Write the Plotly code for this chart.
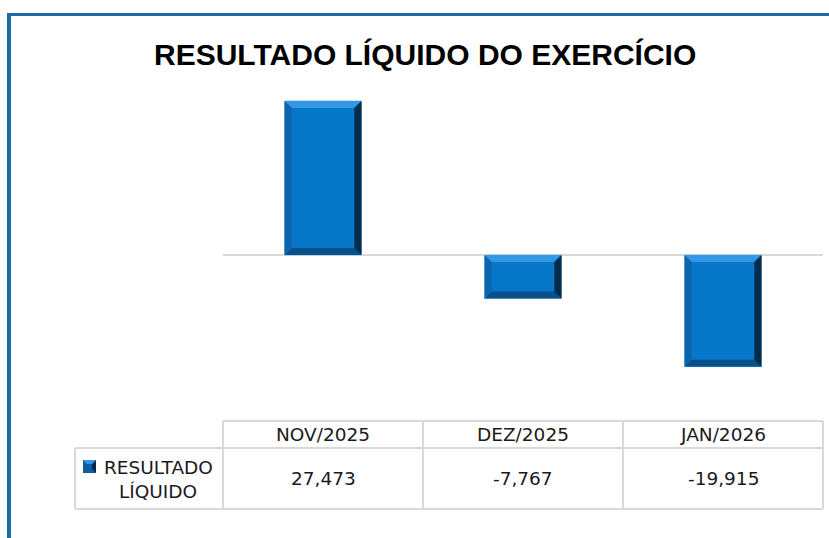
import plotly.graph_objects as go

# ---- data ----
title_text = "RESULTADO LÍQUIDO DO EXERCÍCIO"
categories = ["NOV/2025", "DEZ/2025", "JAN/2026"]
values = [27473, -7767, -19915]
value_labels = ["27,473", "-7,767", "-19,915"]
series_name = ["RESULTADO", "LÍQUIDO"]

W, H = 829, 538
def px(x):
    return x / W
def py(y):
    return 1 - y / H

# plot area geometry (pixels)
X0, X1 = 223, 823
Y_TOP, Y_BOT, Y_ZERO = 90, 400, 255
scale = (Y_ZERO - 101) / values[0]  # px per unit
y_max = (Y_ZERO - Y_TOP) / scale
y_min = -(Y_BOT - Y_ZERO) / scale

xs = list(range(len(categories)))
bar_w = 0.385

fig = go.Figure()
fig.add_trace(go.Bar(
    x=xs, y=values, width=bar_w,
    marker=dict(color="#0677c9", line=dict(color="#9fc3df", width=1)),
    hoverinfo="skip", showlegend=False,
))

shapes = []
# bevel faces computed from data
dx = 0.036
dy = 7 / scale
for c, v in zip(xs, values):
    w = bar_w / 2
    yt, yb = max(v, 0), min(v, 0)
    faces = [
        (f"M {c-w},{yt} L {c+w},{yt} L {c+w-dx},{yt-dy} L {c-w+dx},{yt-dy} Z", "#3598e6"),
        (f"M {c-w},{yb} L {c+w},{yb} L {c+w-dx},{yb+dy} L {c-w+dx},{yb+dy} Z", "#07508a"),
        (f"M {c+w},{yt} L {c+w},{yb} L {c+w-dx},{yb+dy} L {c+w-dx},{yt-dy} Z", "#032b4d"),
        (f"M {c-w},{yt} L {c-w},{yb} L {c-w+dx},{yb+dy} L {c-w+dx},{yt-dy} Z", "#0b66ad"),
    ]
    for path, col in faces:
        shapes.append(dict(type="path", xref="x", yref="y", path=path,
                           fillcolor=col, line=dict(width=0), layer="above"))

# zero line
shapes.append(dict(type="line", xref="paper", yref="y", x0=px(X0), x1=px(X1),
                   y0=0, y1=0, line=dict(color="#d9d9d9", width=2), layer="below"))

# frame border
BLUE = "#1b6ca8"
shapes.append(dict(type="line", xref="paper", yref="paper", x0=px(7), x1=px(829),
                   y0=py(14.5), y1=py(14.5), line=dict(color=BLUE, width=3)))
shapes.append(dict(type="line", xref="paper", yref="paper", x0=px(9), x1=px(9),
                   y0=py(13), y1=py(538), line=dict(color=BLUE, width=4)))

# data table grid
GRID = "#d9d9d9"
T_TOP, T_MID, T_BOT = 421, 448, 509
T_LEFT = 75
col_edges = [X0 + i * (X1 - X0) / len(categories) for i in range(len(categories) + 1)]
def hline(y, xa, xb):
    shapes.append(dict(type="line", xref="paper", yref="paper", x0=px(xa), x1=px(xb),
                       y0=py(y), y1=py(y), line=dict(color=GRID, width=2)))
def vline(x, ya, yb):
    shapes.append(dict(type="line", xref="paper", yref="paper", x0=px(x), x1=px(x),
                       y0=py(ya), y1=py(yb), line=dict(color=GRID, width=2)))
hline(T_TOP, col_edges[0], col_edges[-1])
hline(T_MID, T_LEFT, col_edges[-1])
hline(T_BOT, T_LEFT, col_edges[-1])
vline(T_LEFT, T_MID, T_BOT)
for e in col_edges:
    vline(e, T_TOP, T_BOT)

# legend key
shapes.append(dict(type="rect", xref="paper", yref="paper", x0=px(83), x1=px(96),
                   y0=py(473), y1=py(460), fillcolor="#0d5f9e", line=dict(width=0)))
shapes.append(dict(type="path", xref="paper", yref="paper",
                   path=f"M {px(96)},{py(460)} L {px(96)},{py(473)} L {px(92)},{py(469)} L {px(92)},{py(464)} Z",
                   fillcolor="#03284a", line=dict(width=0)))
shapes.append(dict(type="path", xref="paper", yref="paper",
                   path=f"M {px(83)},{py(460)} L {px(96)},{py(460)} L {px(92)},{py(464)} L {px(87)},{py(464)} Z",
                   fillcolor="#2f95e6", line=dict(width=0)))

annotations = []
annotations.append(dict(text=f"<b>{title_text}</b>", x=px(425), y=py(55), xref="paper", yref="paper",
                        showarrow=False, xanchor="center", yanchor="middle",
                        font=dict(family="Liberation Sans", size=30, color="#000000")))
TXT = "#1a1a1a"
for i, (cat, lab) in enumerate(zip(categories, value_labels)):
    cx = (col_edges[i] + col_edges[i + 1]) / 2
    annotations.append(dict(text=cat, x=px(cx), y=py(434.5), xref="paper", yref="paper",
                            showarrow=False, xanchor="center", yanchor="middle",
                            font=dict(family="DejaVu Sans", size=18.5, color=TXT)))
    annotations.append(dict(text=lab, x=px(cx), y=py(478.5), xref="paper", yref="paper",
                            showarrow=False, xanchor="center", yanchor="middle",
                            font=dict(family="DejaVu Sans", size=18.5, color=TXT)))
for j, (line, yy) in enumerate(zip(series_name, [467, 491])):
    annotations.append(dict(text=line, x=px(158), y=py(yy), xref="paper", yref="paper",
                            showarrow=False, xanchor="center", yanchor="middle",
                            font=dict(family="DejaVu Sans", size=18.5, color=TXT)))

fig.update_layout(
    width=W, height=H,
    margin=dict(l=0, r=0, t=0, b=0),
    paper_bgcolor="#ffffff", plot_bgcolor="rgba(0,0,0,0)",
    xaxis=dict(domain=[px(X0), px(X1)], range=[-0.5, len(categories) - 0.5],
               visible=False, fixedrange=True),
    yaxis=dict(domain=[py(Y_BOT), py(Y_TOP)], range=[y_min, y_max],
               visible=False, fixedrange=True),
    shapes=shapes, annotations=annotations,
    showlegend=False,
)

fig.write_html("out.html", config={"displayModeBar": False},
               post_script="document.body.style.margin='0';document.body.style.overflow='hidden';")
